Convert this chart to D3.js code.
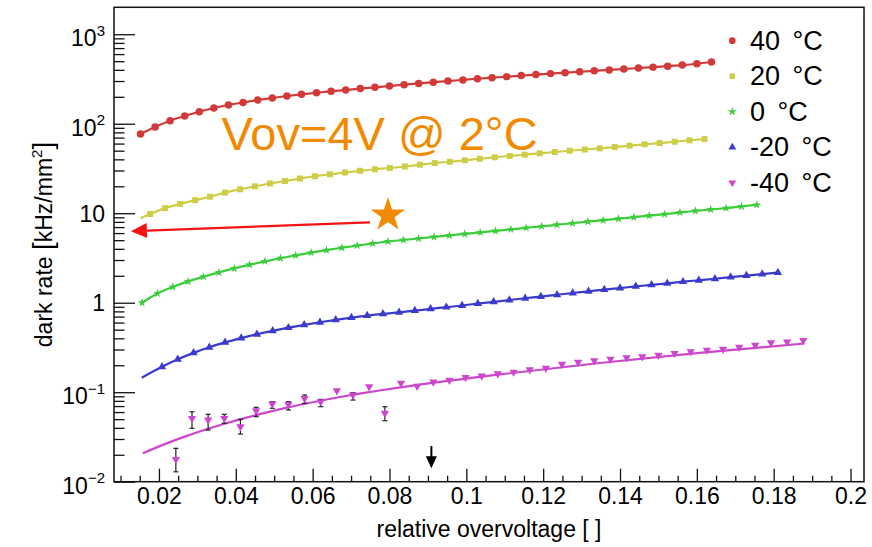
<!DOCTYPE html>
<html>
<head>
<meta charset="utf-8">
<script src="https://d3js.org/d3.v7.min.js"></script>
<style>
body { margin: 0; background: #fff; }
text { font-family: "Liberation Sans", Arial, sans-serif; }
</style>
</head>
<body>
<div id="chart"></div>
<script>
// 40 C
var redX = [0.0152, 0.0190, 0.0229, 0.0267, 0.0305, 0.0343, 0.0381, 0.0419, 0.0457, 0.0495,
    0.0533, 0.0571, 0.0610, 0.0648, 0.0686, 0.0724, 0.0762, 0.0800, 0.0838, 0.0876,
    0.0914, 0.0952, 0.0991, 0.1029, 0.1067, 0.1105, 0.1143, 0.1181, 0.1219, 0.1257,
    0.1295, 0.1333, 0.1372, 0.1410, 0.1448, 0.1486, 0.1524, 0.1562, 0.1600, 0.1638];
var redY = [77, 92, 108, 122, 136, 150, 162, 173, 184, 194,
    204, 213, 222, 230, 238, 247, 255, 264, 273, 282,
    291, 300, 309, 318, 327, 336, 345, 354, 363, 372,
    381, 390, 399, 409, 419, 429, 440, 452, 468, 490];
// 20 C
var yellowX = [0.0177, 0.0216, 0.0255, 0.0294, 0.0333, 0.0372, 0.0411, 0.0450, 0.0489, 0.0528,
    0.0567, 0.0606, 0.0645, 0.0684, 0.0723, 0.0762, 0.0801, 0.0840, 0.0879, 0.0918,
    0.0957, 0.0996, 0.1035, 0.1074, 0.1113, 0.1152, 0.1191, 0.1230, 0.1269, 0.1308,
    0.1347, 0.1386, 0.1425, 0.1464, 0.1503, 0.1542, 0.1581, 0.1620];
var yellowY = [9.8, 11.4, 12.7, 14.0, 15.3, 17.0, 18.5, 20.0, 21.5, 22.9,
    24.4, 25.9, 27.2, 28.5, 29.8, 31.0, 32.0, 33.3, 34.8, 36.4,
    37.6, 39.0, 40.6, 42.2, 43.6, 45.1, 46.7, 48.3, 49.9, 51.5,
    53.1, 54.9, 56.8, 58.9, 60.8, 62.9, 65.2, 67.5];
// 0 C
var greenX = [0.0156, 0.0196, 0.0236, 0.0276, 0.0316, 0.0356, 0.0396, 0.0436, 0.0476, 0.0516,
    0.0556, 0.0596, 0.0636, 0.0676, 0.0716, 0.0756, 0.0796, 0.0836, 0.0876, 0.0916,
    0.0956, 0.0996, 0.1036, 0.1076, 0.1116, 0.1156, 0.1196, 0.1236, 0.1276, 0.1316,
    0.1356, 0.1396, 0.1436, 0.1476, 0.1516, 0.1556, 0.1596, 0.1636, 0.1676, 0.1716, 0.1756];
var greenY = [1.0, 1.27, 1.50, 1.73, 1.95, 2.18, 2.42, 2.66, 2.90, 3.14,
    3.38, 3.63, 3.87, 4.11, 4.35, 4.59, 4.83, 5.02, 5.22, 5.43,
    5.65, 5.87, 6.11, 6.35, 6.61, 6.87, 7.14, 7.43, 7.73, 8.04,
    8.36, 8.69, 9.04, 9.40, 9.77, 10.2, 10.6, 11.0, 11.4, 11.9, 12.4];
// -20 C
var blueX = [0.0208, 0.0249, 0.0290, 0.0331, 0.0372, 0.0414, 0.0455, 0.0496, 0.0537, 0.0578,
    0.0619, 0.0660, 0.0701, 0.0742, 0.0783, 0.0825, 0.0866, 0.0907, 0.0948, 0.0989,
    0.1030, 0.1071, 0.1112, 0.1153, 0.1194, 0.1236, 0.1277, 0.1318, 0.1359, 0.1400,
    0.1441, 0.1482, 0.1523, 0.1564, 0.1605, 0.1647, 0.1688, 0.1729, 0.1770, 0.1811];
var blueY = [0.192, 0.233, 0.275, 0.318, 0.360, 0.402, 0.444, 0.485, 0.526, 0.566,
    0.605, 0.644, 0.682, 0.719, 0.752, 0.781, 0.816, 0.853, 0.891, 0.931,
    0.979, 1.023, 1.072, 1.122, 1.172, 1.228, 1.283, 1.340, 1.400, 1.459,
    1.521, 1.585, 1.648, 1.717, 1.783, 1.854, 1.932, 2.009, 2.089, 2.168];
// -40 C
var magentaX = [0.0244, 0.0286, 0.0328, 0.0370, 0.0412, 0.0453, 0.0495, 0.0537, 0.0579, 0.0621,
    0.0663, 0.0705, 0.0747, 0.0788, 0.0830, 0.0872, 0.0914, 0.0956, 0.0998, 0.1040,
    0.1082, 0.1123, 0.1165, 0.1207, 0.1249, 0.1291, 0.1333, 0.1375, 0.1417, 0.1458,
    0.1500, 0.1542, 0.1584, 0.1626, 0.1668, 0.1710, 0.1752, 0.1793, 0.1835, 0.1877];
var magentaY = [0.0178, 0.0511, 0.0489, 0.0511, 0.0412, 0.0621, 0.0739, 0.0733, 0.0854, 0.0782,
    0.104, 0.0931, 0.115, 0.0582, 0.126, 0.117, 0.130, 0.136, 0.146, 0.152,
    0.161, 0.168, 0.179, 0.186, 0.206, 0.217, 0.225, 0.234, 0.244, 0.250,
    0.260, 0.272, 0.284, 0.296, 0.302, 0.318, 0.336, 0.357, 0.366, 0.380];
var magentaLo = [0.0129, 0.0395, 0.0378, 0.0450, 0.0341, 0.0532, 0.0661, 0.0633, 0.0752, 0.0689,
    null, 0.0817, null, 0.0480];
var magentaHi = [0.0236, 0.0605, 0.0566, 0.0566, 0.0498, 0.0678, 0.0783, 0.0783, 0.0931, 0.0832,
    null, 0.0987, null, 0.0688];
var magentaFitX = [0.0158, 0.0210, 0.0262, 0.0314, 0.0366, 0.0418, 0.0470, 0.0522, 0.0574, 0.0626,
    0.0678, 0.0730, 0.0782, 0.0834, 0.1087, 0.1347, 0.1607, 0.1880];
var magentaFitY = [0.0208, 0.0258, 0.0313, 0.0373, 0.0438, 0.0507, 0.0580, 0.0656, 0.0734, 0.0814,
    0.0895, 0.0977, 0.1058, 0.1140, 0.158, 0.212, 0.275, 0.350];
// where the fitted curves start left of the first point
var yellowFitStart = [0.0152, 8.8];
var blueFitStart = [0.0155, 0.145];

var legendLabels = ["40 \u00b0C", "20 \u00b0C", "0 \u00b0C", "-20 \u00b0C", "-40 \u00b0C"];
var xTicks = [0.02, 0.04, 0.06, 0.08, 0.1, 0.12, 0.14, 0.16, 0.18, 0.2];
var xTickLabels = ["0.02", "0.04", "0.06", "0.08", "0.1", "0.12", "0.14", "0.16", "0.18", "0.2"];
var yTicks = [0.01, 0.1, 1, 10, 100, 1000];
var yTickBase = ["10", "10", "1", "10", "10", "10"];
var yTickExp = ["\u22122", "\u22121", "", "", "2", "3"];

// annotations (data units)
var noteText = "Vov=4V @ 2\u00b0C";
var notePos = [0.0363, 50.9];
var starPos = [0.0796, 9.55];
var arrowFrom = [0.0749, 7.9];
var arrowTo = [0.0127, 6.3];
var markArrow = [0.0909, 0.025, 0.0141];

var svgWidth = 872;
var svgHeight = 547;
var frame = { left: 114, right: 864, top: 7.3, bottom: 481.7 };

var svg = d3.select("#chart")
    .append("svg")
    .attr("width", svgWidth)
    .attr("height", svgHeight);

var x = d3.scaleLinear().domain([0.0083, 0.2035]).range([frame.left, frame.right]);
var y = d3.scaleLog().domain([0.01, 2000]).range([frame.bottom, frame.top]);

// minor ticks
var xMinor = d3.range(0.01, 0.2035, 0.005).filter(function (v) {
    return xTicks.every(function (t) { return Math.abs(t - v) > 1e-6; });
});
var yMinor = [];
[-2, -1, 0, 1, 2, 3].forEach(function (p) {
    for (var m = 2; m <= 9; m++) {
        var v = m * Math.pow(10, p);
        if (v < 2000) yMinor.push(v);
    }
});

// X axis
var xAxisG = svg.append("g")
    .attr("transform", "translate(0," + frame.bottom + ")")
    .call(d3.axisBottom(x).tickValues(xTicks).tickSizeInner(-13).tickSizeOuter(0).tickPadding(6)
        .tickFormat(function (d, i) { return xTickLabels[i]; }));
xAxisG.select(".domain").remove();
xAxisG.selectAll("text").attr("font-size", 23).attr("fill", "#000")
    .attr("font-family", "Liberation Sans, Arial, sans-serif");
xAxisG.selectAll("line").attr("stroke", "#111").attr("stroke-width", 1.3);

var xMinorG = svg.append("g")
    .attr("transform", "translate(0," + frame.bottom + ")")
    .call(d3.axisBottom(x).tickValues(xMinor).tickSizeInner(-6).tickSizeOuter(0).tickFormat(""));
xMinorG.select(".domain").remove();
xMinorG.selectAll("line").attr("stroke", "#111").attr("stroke-width", 1.3);

// Y axis
var yAxisG = svg.append("g")
    .attr("transform", "translate(" + frame.left + ",0)")
    .call(d3.axisLeft(y).tickValues(yTicks).tickSizeInner(-21).tickSizeOuter(0).tickFormat(""));
yAxisG.select(".domain").remove();
yAxisG.selectAll("line").attr("stroke", "#111").attr("stroke-width", 1.3);

var yMinorG = svg.append("g")
    .attr("transform", "translate(" + frame.left + ",0)")
    .call(d3.axisLeft(y).tickValues(yMinor).tickSizeInner(-10.5).tickSizeOuter(0).tickFormat(""));
yMinorG.select(".domain").remove();
yMinorG.selectAll("line").attr("stroke", "#111").attr("stroke-width", 1.3);

// Y tick labels with exponents
yTicks.forEach(function (v, i) {
    var t = svg.append("text")
        .attr("x", 105)
        .attr("y", y(v) + (yTickExp[i] ? 12 : 8.5))
        .attr("text-anchor", "end")
        .attr("font-size", 23)
        .attr("fill", "#000");
    t.append("tspan").text(yTickBase[i]);
    if (yTickExp[i]) {
        t.append("tspan").attr("dy", -10.7).attr("font-size", 15).text(yTickExp[i]);
    }
});

// frame
svg.append("rect")
    .attr("x", frame.left).attr("y", frame.top)
    .attr("width", frame.right - frame.left).attr("height", frame.bottom - frame.top)
    .attr("fill", "none").attr("stroke", "#111").attr("stroke-width", 1.5);

// axis titles
svg.append("text")
    .attr("x", (frame.left + frame.right) / 2)
    .attr("y", 537)
    .attr("text-anchor", "middle")
    .attr("font-size", 23)
    .attr("fill", "#000")
    .text("relative overvoltage [ ]");

var yTitle = svg.append("text")
    .attr("transform", "translate(52," + ((frame.top + frame.bottom) / 2) + ") rotate(-90)")
    .attr("text-anchor", "middle")
    .attr("font-size", 23)
    .attr("fill", "#000");
yTitle.append("tspan").text("dark rate ");
yTitle.append("tspan").attr("font-size", 28).text("[");
yTitle.append("tspan").text("kHz/mm");
yTitle.append("tspan").attr("dy", -10).attr("font-size", 15).text("2");
yTitle.append("tspan").attr("dy", 10).attr("font-size", 28).text("]");

// series
function zip(xs, ys) {
    return xs.map(function (v, i) { return [v, ys[i]]; });
}

var series = [
    { pts: zip(redX, redY), line: zip(redX, redY), color: "#d23a3a", type: d3.symbolCircle, size: 44, rot: 0, lsize: 36 },
    { pts: zip(yellowX, yellowY), line: [yellowFitStart].concat(zip(yellowX, yellowY)), color: "#cdcd48", type: d3.symbolSquare, size: 36, rot: 0, lsize: 30 },
    { pts: zip(greenX, greenY), line: zip(greenX, greenY), color: "#3ccc3c", type: d3.symbolStar, size: 24, rot: 0, lsize: 26 },
    { pts: zip(blueX, blueY), line: [blueFitStart].concat(zip(blueX, blueY)), color: "#3a3acc", type: d3.symbolTriangle, size: 30, rot: 0, lsize: 26 },
    { pts: zip(magentaX, magentaY), line: zip(magentaFitX, magentaFitY), color: "#cc47cc", type: d3.symbolTriangle, size: 30, rot: 180, lsize: 26 }
];

var lineGen = d3.line()
    .x(function (d) { return x(d[0]); })
    .y(function (d) { return y(d[1]); })
    .curve(d3.curveMonotoneX);

series.forEach(function (s) {
    svg.append("path")
        .attr("d", lineGen(s.line))
        .attr("fill", "none")
        .attr("stroke", s.color)
        .attr("stroke-width", 2.2);
});

// error bars for -40 C
var errG = svg.append("g").attr("stroke", "#222").attr("stroke-width", 1.2);
magentaLo.forEach(function (lo, i) {
    if (lo === null) return;
    var px = x(magentaX[i]);
    var y1 = y(lo), y2 = y(magentaHi[i]);
    errG.append("line").attr("x1", px).attr("x2", px).attr("y1", y1).attr("y2", y2);
    errG.append("line").attr("x1", px - 2.5).attr("x2", px + 2.5).attr("y1", y1).attr("y2", y1);
    errG.append("line").attr("x1", px - 2.5).attr("x2", px + 2.5).attr("y1", y2).attr("y2", y2);
});

series.forEach(function (s) {
    var sym = d3.symbol().type(s.type).size(s.size);
    svg.append("g").selectAll("path")
        .data(s.pts)
        .enter()
        .append("path")
        .attr("d", sym)
        .attr("transform", function (d) {
            return "translate(" + x(d[0]) + "," + y(d[1]) + ") rotate(" + s.rot + ")";
        })
        .attr("fill", s.color);
});

// legend
var legend = svg.append("g");
legendLabels.forEach(function (lab, i) {
    var s = series[i];
    var ly = 40.7 + 35.5 * i;
    legend.append("path")
        .attr("d", d3.symbol().type(s.type).size(s.lsize))
        .attr("transform", "translate(732.3," + ly + ") rotate(" + s.rot + ")")
        .attr("fill", s.color);
    legend.append("text")
        .attr("x", 750)
        .attr("y", ly + 9)
        .attr("font-size", 27)
        .attr("word-spacing", 5)
        .attr("fill", "#000")
        .text(lab);
});

// annotations
var orange = "#f28a00";
svg.append("text")
    .attr("x", x(notePos[0]))
    .attr("y", y(notePos[1]))
    .attr("font-family", "Noto Sans, Open Sans, sans-serif")
    .attr("font-size", 47)
    .attr("fill", orange)
    .text(noteText);

svg.append("path")
    .attr("d", d3.symbol().type(d3.symbolStar).size(365))
    .attr("transform", "translate(" + x(starPos[0]) + "," + y(starPos[1]) + ")")
    .attr("fill", orange);

// red arrow
var ax1 = x(arrowFrom[0]), ay1 = y(arrowFrom[1]);
var ax2 = x(arrowTo[0]), ay2 = y(arrowTo[1]);
var dx = ax2 - ax1, dy = ay2 - ay1, len = Math.sqrt(dx * dx + dy * dy);
var ux = dx / len, uy = dy / len;
var headLen = 16, headW = 7.5;
var bx = ax2 - ux * headLen, by = ay2 - uy * headLen;
svg.append("line")
    .attr("x1", ax1).attr("y1", ay1).attr("x2", bx).attr("y2", by)
    .attr("stroke", "#f01414").attr("stroke-width", 2.2);
svg.append("path")
    .attr("d", "M" + ax2 + "," + ay2 +
        "L" + (bx - uy * headW) + "," + (by + ux * headW) +
        "L" + (bx + uy * headW) + "," + (by - ux * headW) + "Z")
    .attr("fill", "#f01414");

// black arrow above the axis
var mx = x(markArrow[0]), my1 = y(markArrow[1]), my2 = y(markArrow[2]);
svg.append("line")
    .attr("x1", mx).attr("x2", mx).attr("y1", my1).attr("y2", my2 - 10)
    .attr("stroke", "#000").attr("stroke-width", 2);
svg.append("path")
    .attr("d", "M" + mx + "," + my2 + "L" + (mx - 5.5) + "," + (my2 - 12) + "L" + (mx + 5.5) + "," + (my2 - 12) + "Z")
    .attr("fill", "#000");
</script>
</body>
</html>
